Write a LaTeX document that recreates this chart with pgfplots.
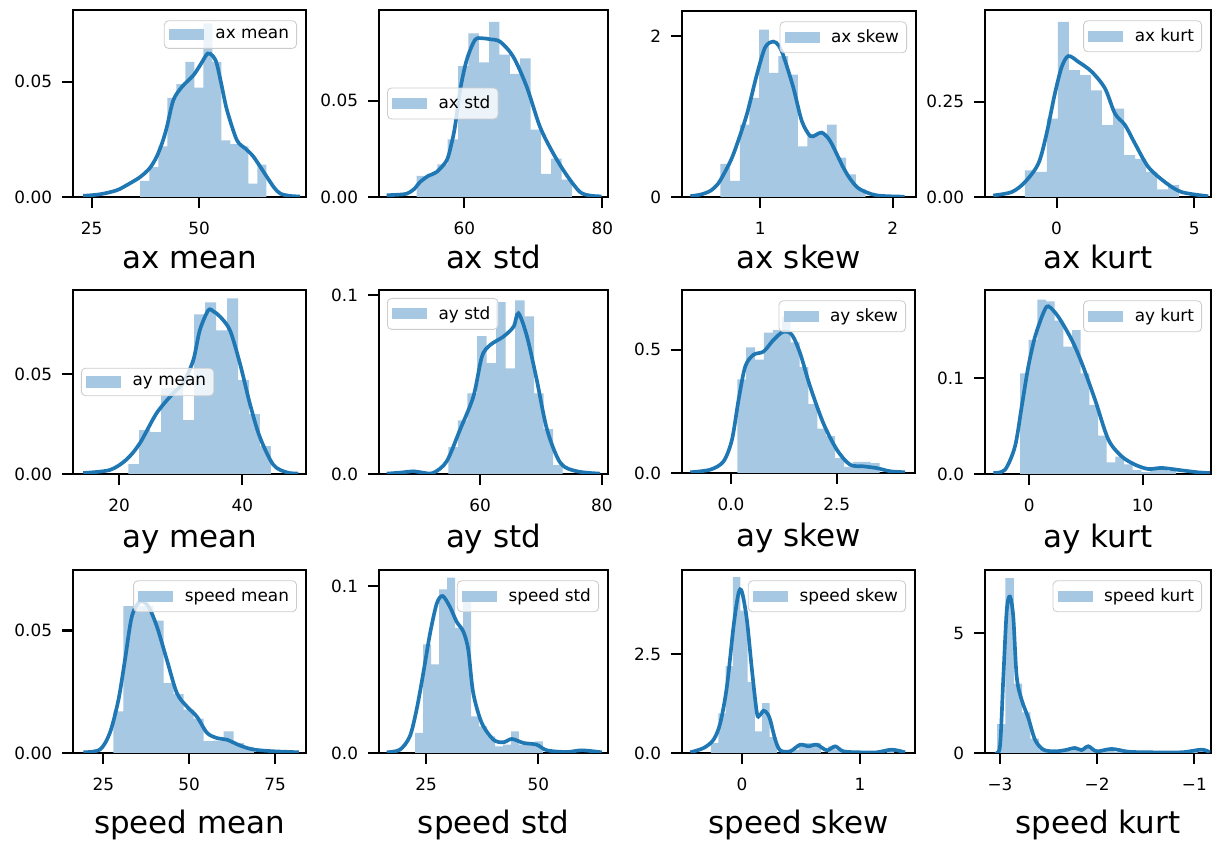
\documentclass[border=0pt]{standalone}
\usepackage{fontspec}
\setmainfont{DejaVu Sans}
\usepackage{pgfplots}
\pgfplotsset{compat=1.18}
\definecolor{histblue}{HTML}{A6C8E2}
\definecolor{kdeblue}{HTML}{1F77B4}

\pgfplotsset{
  hist/.style={
    scale only axis, anchor=south west,
    ymin=0, scaled x ticks=false, scaled y ticks=false,
    axis line style={line width=1.5pt},
    tick style={line width=1.5pt, black},
    major tick length=2.75mm, tick align=outside, tick pos=left,
    tick label style={font=\fontsize{12}{14}\selectfont},
    xticklabel style={yshift=-2.2mm},
    yticklabel style={xshift=-1.25mm},
    xlabel style={font=\fontsize{22}{26}\selectfont, at={(axis description cs:0.5,0)}, anchor=base},
    legend style={draw=black!20, line width=0.6pt, fill=white, fill opacity=0.8, text opacity=1,
      rounded corners=3pt, font=\fontsize{12}{14}\selectfont,
      inner xsep=1.2mm, inner ysep=1.3mm, cells={anchor=west}},
    legend image code/.code={\fill[histblue, fill opacity=1, sharp corners] (0mm,-1.4mm) rectangle (8.75mm,1.4mm); \path (10.9mm,0);},
  },
  histbars/.style={ybar interval, fill=histblue, draw=none},
  kdeline/.style={kdeblue, line width=2.6pt, smooth, forget plot},
  legur/.style={legend style={at={(1,1)}, anchor=north east, xshift=-2.25mm, yshift=-2.6mm}},
  legcl/.style={legend style={at={(0,0.5)}, anchor=west, xshift=2mm}},
  legul/.style={legend style={at={(0,1)}, anchor=north west, xshift=2mm, yshift=-2mm}},
  rowa/.style={xlabel style={yshift=-18mm}},
  rowb/.style={xlabel style={yshift=-18.5mm}},
  rowc/.style={xlabel style={yshift=-20.25mm}},
}

\begin{document}
\begin{tikzpicture}
\path[use as bounding box] (0mm,0mm) rectangle (305mm,210.25mm);

% ---------- row 1 ----------
\begin{axis}[hist, rowa, legur, at={(18.25mm,161mm)}, width=58.25mm, height=46.75mm,
  xmin=20.64, xmax=74.9, ymax=0.0812,
  xtick={25,50}, xticklabels={25,50}, ytick={0,0.05}, yticklabels={0.00,0.05},
  xlabel={ax mean}]
\addplot[histbars] coordinates {(36.3,0.007)(38.4,0.013)(40.5,0.022)(42.6,0.043)(44.7,0.049)(46.8,0.0587)(48.9,0.0475)(51.0,0.0754)(53.1,0.0587)(55.2,0.0246)(57.3,0.023)(59.4,0.022)(61.5,0.0058)(63.6,0.014)(65.7,0.014)};
\addlegendentry{ax mean}
\addplot[kdeline] coordinates {(23.0,0.0005)(27,0.0012)(30.8,0.0029)(33.5,0.0055)(36.3,0.0087)(38.5,0.0125)(40.1,0.0174)(41.5,0.024)(42.5,0.0304)(44.0,0.042)(46.0,0.0478)(48.7,0.0529)(50.5,0.058)(52.0,0.0623)(53.2,0.0612)(54.1,0.058)(55.3,0.048)(56.5,0.0377)(58.8,0.0247)(60.8,0.021)(62.7,0.0174)(65.8,0.0087)(67.5,0.004)(68.9,0.0015)(71,0.0005)(73.5,0.0002)};
\end{axis}

\begin{axis}[hist, rowa, legcl, at={(94.75mm,161mm)}, width=57.25mm, height=46.75mm,
  xmin=47.64, xmax=80.83, ymax=0.0972,
  xtick={60,80}, xticklabels={60,80}, ytick={0,0.05}, yticklabels={0.00,0.05},
  xlabel={ax std}]
\addplot[histbars] coordinates {(53.1,0.011)(54.6,0.012)(56.1,0.017)(57.6,0.030)(59.1,0.068)(60.6,0.085)(62.1,0.070)(63.6,0.091)(65.1,0.074)(66.6,0.064)(68.1,0.072)(69.6,0.035)(71.1,0.012)(72.6,0.020)(74.1,0.009)(75.6,0.009)};
\addlegendentry{ax std}
\addplot[kdeline] coordinates {(48.75,0.0009)(50.5,0.0012)(51.66,0.0017)(52.7,0.004)(53.6,0.0078)(54.8,0.011)(56.0,0.013)(57.45,0.019)(58.1,0.027)(58.65,0.0365)(59.4,0.0556)(60.35,0.0712)(61.55,0.0816)(62.6,0.0825)(63.7,0.082)(65.2,0.0807)(67.1,0.0729)(69.05,0.0573)(70.97,0.0365)(72.9,0.0226)(74.85,0.0113)(76.77,0.0026)(78.3,0.0007)(79.9,0.0003)};
\end{axis}

\begin{axis}[hist, rowa, legur, at={(170.5mm,161mm)}, width=58.5mm, height=46.5mm,
  xmin=0.41, xmax=2.176, ymax=2.31,
  xtick={1,2}, xticklabels={1,2}, ytick={0,2}, yticklabels={0,2},
  xlabel={ax skew}]
\addplot[histbars] coordinates {(0.700,0.41)(0.773,0.20)(0.846,0.90)(0.919,1.23)(0.992,2.08)(1.065,1.54)(1.138,1.75)(1.211,1.52)(1.284,0.63)(1.357,0.78)(1.430,0.78)(1.503,0.90)(1.576,0.49)(1.649,0.28)(1.722,0.10)(1.795,0.10)};
\addlegendentry{ax skew}
\addplot[kdeline] coordinates {(0.473,0.01)(0.55,0.03)(0.623,0.075)(0.68,0.16)(0.724,0.28)(0.78,0.46)(0.824,0.65)(0.90,1.03)(0.975,1.52)(1.038,1.86)(1.10,1.93)(1.14,1.88)(1.176,1.75)(1.25,1.36)(1.314,0.944)(1.377,0.758)(1.42,0.77)(1.465,0.80)(1.528,0.696)(1.628,0.364)(1.69,0.20)(1.754,0.095)(1.88,0.02)(2.09,0.004)};
\end{axis}

\begin{axis}[hist, rowa, legur, at={(246.25mm,161mm)}, width=56.5mm, height=46.75mm,
  xmin=-2.60, xmax=5.61, ymax=0.491,
  xtick={0,5}, xticklabels={0,5}, ytick={0,0.25}, yticklabels={0.00,0.25},
  xlabel={ax kurt}]
\addplot[histbars] coordinates {(-1.15,0.070)(-0.75,0.066)(-0.35,0.206)(0.05,0.46)(0.45,0.333)(0.85,0.32)(1.25,0.28)(1.65,0.189)(2.05,0.232)(2.45,0.11)(2.85,0.10)(3.25,0.066)(3.65,0.02)(4.05,0.031)(4.45,0.031)};
\addlegendentry{ax kurt}
\addplot[kdeline] coordinates {(-2.30,0.004)(-1.63,0.013)(-1.15,0.039)(-0.66,0.088)(-0.36,0.167)(-0.06,0.272)(0.19,0.342)(0.43,0.370)(0.79,0.355)(1.275,0.329)(1.76,0.285)(2.12,0.219)(2.485,0.189)(2.85,0.140)(3.33,0.079)(3.94,0.039)(4.54,0.013)(5.51,0.002)};
\end{axis}

% ---------- row 2 ----------
\begin{axis}[hist, rowb, legcl, at={(18.25mm,91.75mm)}, width=58.25mm, height=46mm,
  xmin=12.54, xmax=50.32, ymax=0.0922,
  xtick={20,40}, xticklabels={20,40}, ytick={0,0.05}, yticklabels={0.00,0.05},
  xlabel={ay mean}]
\addplot[histbars] coordinates {(21.5,0.005)(23.28,0.022)(25.06,0.021)(26.84,0.043)(28.62,0.043)(30.4,0.027)(32.18,0.080)(33.96,0.086)(35.74,0.072)(37.52,0.088)(39.3,0.047)(41.08,0.030)(42.86,0.014)(44.64,0.014)};
\addlegendentry{ay mean}
\addplot[kdeline] coordinates {(14.2,0.0005)(18.5,0.002)(21.2,0.0072)(23.4,0.0155)(26.1,0.0305)(28.8,0.0405)(30.4,0.0455)(32.04,0.057)(33.1,0.072)(34.47,0.082)(35.3,0.0815)(36.4,0.0788)(37.99,0.072)(39.6,0.0555)(41.2,0.0355)(42.8,0.0188)(45.0,0.0047)(47.2,0.0008)(49.1,0.0002)};
\end{axis}

\begin{axis}[hist, rowb, legul, at={(94.75mm,91.75mm)}, width=57.25mm, height=46mm,
  xmin=43.4, xmax=81.0, ymax=0.1028,
  xtick={60,80}, xticklabels={60,80}, ytick={0,0.1}, yticklabels={0.0,0.1},
  xlabel={ay std}]
\addplot[histbars] coordinates {(54.8,0.015)(56.36,0.030)(57.93,0.045)(59.49,0.077)(61.05,0.062)(62.61,0.096)(64.18,0.059)(65.74,0.097)(67.3,0.088)(68.86,0.045)(70.43,0.025)(71.99,0.005)(73.55,0.005)};
\addlegendentry{ay std}
\addplot[kdeline] coordinates {(44.66,0.0002)(47,0.0008)(49.05,0.0015)(50.5,0.0008)(52.3,0.0006)(54.5,0.007)(56.7,0.0247)(58.9,0.0433)(60.3,0.0656)(61.66,0.0721)(63.85,0.0768)(65.5,0.0823)(66.3,0.0898)(67.7,0.0768)(69.3,0.0526)(71.0,0.0247)(73.2,0.0061)(75.9,0.0015)(79.7,0.0002)};
\end{axis}

\begin{axis}[hist, rowb, legur, at={(170.5mm,92mm)}, width=58.25mm, height=45.75mm,
  xmin=-1.156, xmax=4.347, ymax=0.743,
  xtick={0,2.5}, xticklabels={0.0,2.5}, ytick={0,0.5}, yticklabels={0.0,0.5},
  xlabel={ay skew}]
\addplot[histbars] coordinates {(0.15,0.38)(0.36,0.51)(0.57,0.46)(0.78,0.57)(0.99,0.58)(1.20,0.635)(1.41,0.53)(1.62,0.43)(1.83,0.28)(2.04,0.18)(2.25,0.15)(2.46,0.06)(2.67,0.025)(2.88,0.045)(3.09,0.045)(3.30,0.04)(3.51,0.04)};
\addlegendentry{ay skew}
\addplot[kdeline] coordinates {(-0.96,0.003)(-0.49,0.0135)(-0.176,0.047)(0.024,0.135)(0.18,0.297)(0.337,0.432)(0.533,0.48)(0.77,0.493)(1.004,0.54)(1.24,0.574)(1.44,0.561)(1.634,0.486)(1.87,0.351)(2.18,0.203)(2.5,0.095)(2.81,0.034)(3.13,0.027)(3.44,0.020)(3.76,0.007)(4.11,0.003)};
\end{axis}

\begin{axis}[hist, rowb, legur, at={(246.25mm,91.75mm)}, width=56.5mm, height=46mm,
  xmin=-3.91, xmax=16.03, ymax=0.192,
  xtick={0,10}, xticklabels={0,10}, ytick={0,0.1}, yticklabels={0.0,0.1},
  xlabel={ay kurt}]
\addplot[histbars] coordinates {(-0.82,0.105)(-0.055,0.14)(0.71,0.182)(1.475,0.180)(2.24,0.16)(3.005,0.133)(3.77,0.150)(4.535,0.105)(5.30,0.072)(6.065,0.04)(6.83,0.012)(7.595,0.018)(8.36,0.010)(9.125,0.004)(9.89,0.002)(10.655,0.004)(11.42,0.006)(12.185,0.003)(12.95,0.003)};
\addlegendentry{ay kurt}
\addplot[kdeline] coordinates {(-3.18,0.001)(-2.14,0.0045)(-1.26,0.029)(-0.67,0.0705)(-0.09,0.112)(0.50,0.143)(1.24,0.168)(1.68,0.175)(2.56,0.164)(3.74,0.140)(4.62,0.116)(5.80,0.0774)(6.97,0.036)(8.15,0.0184)(9.33,0.0097)(10.5,0.0052)(11.69,0.0063)(13.45,0.0038)(14.92,0.0017)(15.95,0.001)};
\end{axis}

% ---------- row 3 ----------
\begin{axis}[hist, rowc, legur, at={(18.25mm,22mm)}, width=58.25mm, height=45.75mm,
  xmin=16.17, xmax=84.0, ymax=0.0747,
  xtick={25,50,75}, xticklabels={25,50,75}, ytick={0,0.05}, yticklabels={0.00,0.05},
  xlabel={speed mean}]
\addplot[histbars] coordinates {(27.92,0.017)(30.84,0.060)(33.76,0.060)(36.68,0.060)(39.6,0.054)(42.52,0.0285)(45.44,0.024)(48.36,0.0177)(51.28,0.014)(54.2,0.0048)(57.12,0.005)(60.04,0.0088)(62.96,0.004)(65.88,0.0025)(68.8,0.0025)};
\addlegendentry{speed mean}
\addplot[kdeline] coordinates {(19.2,0.0003)(24.0,0.0014)(26.9,0.0082)(29.4,0.0217)(31.3,0.038)(33.3,0.0557)(35.7,0.0618)(38.1,0.0598)(40.6,0.0516)(43.5,0.038)(46.4,0.0245)(49.3,0.019)(52.2,0.0149)(55.2,0.0082)(58.1,0.0061)(61.0,0.0054)(64.9,0.003)(68.7,0.0014)(74.6,0.0007)(81.9,0.0003)};
\end{axis}

\begin{axis}[hist, rowc, legur, at={(94.75mm,22mm)}, width=57.25mm, height=45.75mm,
  xmin=14.53, xmax=65.5, ymax=0.1096,
  xtick={25,50}, xticklabels={25,50}, ytick={0,0.1}, yticklabels={0.0,0.1},
  xlabel={speed std}]
\addplot[histbars] coordinates {(22.55,0.012)(24.33,0.065)(26.11,0.053)(27.89,0.098)(29.67,0.105)(31.45,0.075)(33.23,0.096)(35.01,0.022)(36.79,0.016)(38.57,0.010)(40.35,0.004)(42.13,0.005)(43.91,0.013)(45.69,0.005)(47.47,0.006)(49.25,0.007)(51.03,0.007)};
\addlegendentry{speed std}
\addplot[kdeline] coordinates {(16.24,0.0004)(19.2,0.002)(21.4,0.010)(22.9,0.026)(24.4,0.048)(25.9,0.0717)(27.4,0.0896)(28.7,0.094)(30.3,0.0876)(31.8,0.0787)(33.3,0.0727)(34.4,0.0618)(35.5,0.036)(37.4,0.018)(40.0,0.008)(42.2,0.0064)(44.1,0.0084)(46.7,0.006)(49.6,0.005)(51.9,0.0016)(56.3,0.0006)(59.7,0.0016)(64.1,0.0004)};
\end{axis}

\begin{axis}[hist, rowc, legur, at={(170.5mm,22mm)}, width=58.25mm, height=45.75mm,
  xmin=-0.507, xmax=1.465, ymax=4.63,
  xtick={0,1}, xticklabels={0,1}, ytick={0,2.5}, yticklabels={0.0,2.5},
  xlabel={speed skew}]
\addplot[histbars] coordinates {(-0.262,0.25)(-0.2,1.0)(-0.138,2.2)(-0.076,4.45)(-0.014,3.6)(0.048,1.8)(0.11,0.55)(0.172,1.26)(0.234,0.4)(0.296,0.0)(0.358,0.0)(0.42,0.08)(0.482,0.25)(0.544,0.25)(0.606,0.25)(0.668,0.0)(0.73,0.17)(0.792,0.08)(0.854,0)(0.916,0)(0.978,0)(1.04,0)(1.102,0)(1.164,0)(1.226,0.08)(1.288,0.08)};
\addlegendentry{speed skew}
\addplot[kdeline] coordinates {(-0.437,0.017)(-0.324,0.126)(-0.24,0.337)(-0.183,0.758)(-0.127,1.68)(-0.071,3.2)(-0.029,4.04)(0.0,4.08)(0.042,3.37)(0.085,2.10)(0.127,1.01)(0.15,0.95)(0.183,1.07)(0.215,1.0)(0.239,0.84)(0.282,0.34)(0.324,0.067)(0.408,0.042)(0.493,0.21)(0.563,0.168)(0.634,0.21)(0.719,0.067)(0.789,0.168)(0.859,0.042)(1.0,0.017)(1.14,0.017)(1.268,0.084)(1.381,0.017)};
\end{axis}

\begin{axis}[hist, rowc, legur, at={(246.25mm,22mm)}, width=56.5mm, height=45.75mm,
  xmin=-3.154, xmax=-0.828, ymax=7.64,
  xtick={-3,-2,-1}, xticklabels={−3,−2,−1}, ytick={0,5}, yticklabels={0,5},
  xlabel={speed kurt}]
\addplot[histbars] coordinates {(-3.03,1.2)(-2.944,7.3)(-2.858,2.9)(-2.772,1.7)(-2.686,0.6)(-2.6,0.15)(-2.514,0.05)(-2.428,0.08)(-2.342,0.1)(-2.256,0.15)(-2.17,0.2)(-2.084,0.15)(-1.998,0.05)(-1.912,0.12)(-1.826,0.05)(-1.74,0.05)(-1.654,0)(-1.568,0)(-1.482,0)(-1.396,0)(-1.31,0)(-1.224,0)(-1.138,0)(-1.052,0.1)(-0.966,0.1)};
\addlegendentry{speed kurt}
\addplot[kdeline] coordinates {(-3.05,0.03)(-3.0,0.28)(-2.965,3.19)(-2.93,5.97)(-2.897,6.53)(-2.863,5.69)(-2.828,3.19)(-2.777,2.22)(-2.708,1.46)(-2.64,0.56)(-2.554,0.14)(-2.434,0.07)(-2.33,0.12)(-2.228,0.21)(-2.16,0.12)(-2.091,0.28)(-2.005,0.07)(-1.851,0.17)(-1.68,0.055)(-1.474,0.03)(-1.13,0.03)(-0.925,0.14)(-0.84,0.03)};
\end{axis}

\end{tikzpicture}
\end{document}
